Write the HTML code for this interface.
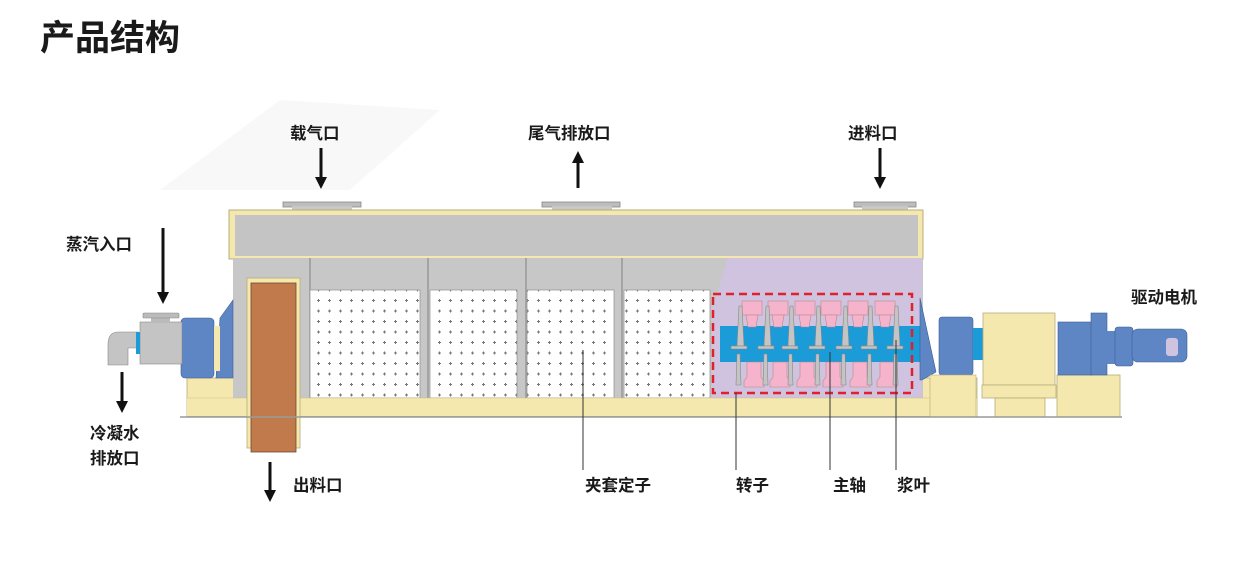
<!DOCTYPE html>
<html><head><meta charset="utf-8"><style>
html,body{margin:0;padding:0;background:#fff;}
svg{display:block;}
text{font-family:"Liberation Sans","Noto Sans CJK SC",sans-serif;fill:#1a1a1a;font-weight:bold;}
</style></head><body>
<svg width="1258" height="583" viewBox="0 0 1258 583" xmlns="http://www.w3.org/2000/svg">
<defs>
<pattern id="dots" x="314" y="296" width="11" height="10.5" patternUnits="userSpaceOnUse">
<rect width="11" height="10.5" fill="#fff"/>
<path d="M3 4.5h3M4.5 3v3" stroke="#777" stroke-width="1"/>
</pattern>
<marker id="ah" markerWidth="4" markerHeight="4" refX="2" refY="2" orient="auto"><path d="M0 0L4 2L0 4Z" fill="#111"/></marker>
</defs>
<path d="M160 190 L280 100 L440 110 L350 190Z" fill="#f8f8f8"/>

<text x="40" y="50" font-size="35">产品结构</text>

<rect x="283" y="202" width="78" height="5" fill="#bdbdbd" stroke="#888" stroke-width="0.8"/>
<rect x="292" y="206" width="60" height="5" fill="#c8c8c8"/>
<rect x="542" y="202" width="78" height="5" fill="#bdbdbd" stroke="#888" stroke-width="0.8"/>
<rect x="552" y="206" width="60" height="5" fill="#c8c8c8"/>
<rect x="854" y="202" width="62" height="5" fill="#bdbdbd" stroke="#888" stroke-width="0.8"/>
<rect x="862" y="206" width="46" height="5" fill="#c8c8c8"/>

<rect x="229" y="210" width="694" height="49" fill="#f4e8ae" stroke="#b9ad7a" stroke-width="1"/>
<rect x="235" y="215" width="683" height="41" fill="#c4c4c4"/>

<!-- base (behind body) -->
<rect x="187" y="378" width="790" height="38" fill="#f4e8ae" stroke="#b9ad7a" stroke-width="0.8"/>

<rect x="233" y="258" width="690" height="140" fill="#c7c7c7"/>
<line x1="310" y1="258" x2="310" y2="398" stroke="#999" stroke-width="1.5"/>
<line x1="428" y1="258" x2="428" y2="398" stroke="#999" stroke-width="1.5"/>
<line x1="526" y1="258" x2="526" y2="398" stroke="#999" stroke-width="1.5"/>
<line x1="622" y1="258" x2="622" y2="398" stroke="#999" stroke-width="1.5"/>
<rect x="310" y="290" width="110" height="108" fill="url(#dots)" stroke="#999" stroke-width="0.8"/>
<rect x="430" y="290" width="87" height="108" fill="url(#dots)" stroke="#999" stroke-width="0.8"/>
<rect x="527" y="290" width="87" height="108" fill="url(#dots)" stroke="#999" stroke-width="0.8"/>
<rect x="624" y="290" width="86" height="108" fill="url(#dots)" stroke="#999" stroke-width="0.8"/>
<path d="M728 258 L922 258 L922 398 L712 398 L712 310Z" fill="#cfc3e0"/>
<rect x="720" y="326" width="200" height="36" fill="#1b9bd8"/>
<g fill="#f5b3cc" stroke="#b88" stroke-width="0.6">
<rect x="742" y="301" width="20" height="14"/><path d="M746 315h12l-2 12h-8z"/>
<rect x="768" y="301" width="20" height="14"/><path d="M772 315h12l-2 12h-8z"/>
<rect x="795" y="301" width="20" height="14"/><path d="M799 315h12l-2 12h-8z"/>
<rect x="821" y="301" width="20" height="14"/><path d="M825 315h12l-2 12h-8z"/>
<rect x="848" y="301" width="20" height="14"/><path d="M852 315h12l-2 12h-8z"/>
<rect x="875" y="301" width="20" height="14"/><path d="M879 315h12l-2 12h-8z"/>
<path d="M744 387h20v-6l-3-4v-15h-14v15l-3 4z"/>
<path d="M770 387h20v-6l-3-4v-15h-14v15l-3 4z"/>
<path d="M797 387h20v-6l-3-4v-15h-14v15l-3 4z"/>
<path d="M823 387h20v-6l-3-4v-15h-14v15l-3 4z"/>
<path d="M850 387h20v-6l-3-4v-15h-14v15l-3 4z"/>
<path d="M877 387h20v-6l-3-4v-15h-14v15l-3 4z"/>
</g>
<g fill="#c4c4c4" stroke="#888" stroke-width="0.6">
<path d="M737 346l2-40h3l2 40z"/><rect x="731" y="346" width="16" height="3"/>
<path d="M764 346l2-40h3l2 40z"/><rect x="758" y="346" width="16" height="3"/>
<path d="M788 346l2-40h3l2 40z"/><rect x="782" y="346" width="16" height="3"/>
<path d="M815 346l2-40h3l2 40z"/><rect x="809" y="346" width="16" height="3"/>
<path d="M842 346l2-40h3l2 40z"/><rect x="836" y="346" width="16" height="3"/>
<path d="M867 346l2-40h3l2 40z"/><rect x="861" y="346" width="16" height="3"/>
<path d="M893 346l2-40h3l2 40z"/><rect x="887" y="346" width="16" height="3"/>
<path d="M736 385l1-31h3l1 31z"/><path d="M763 385l1-31h3l1 31z"/>
<path d="M788 385l1-31h3l1 31z"/><path d="M815 385l1-31h3l1 31z"/>
<path d="M841 385l1-31h3l1 31z"/><path d="M867 385l1-31h3l1 31z"/>
<path d="M893 385l1-31h3l1 31z"/>
</g>
<rect x="713" y="294" width="199" height="99" fill="none" stroke="#e0202a" stroke-width="2.5" stroke-dasharray="8,5"/>
<rect x="187" y="398" width="790" height="18" fill="#f4e8ae"/>
<line x1="187" y1="398" x2="977" y2="398" stroke="#c9bd88" stroke-width="0.6"/>

<path d="M220 318 L233 300 L233 378 L216 378Z" fill="#5e86c4" stroke="#3d5f95" stroke-width="0.6"/>
<rect x="181" y="318" width="33" height="60" rx="4" fill="#5e86c4" stroke="#3d5f95" stroke-width="0.6"/>
<rect x="214" y="326" width="6" height="45" fill="#f4e8ae"/>
<rect x="140" y="322" width="42" height="42" fill="#c4c4c4" stroke="#888" stroke-width="0.6"/>
<rect x="151" y="318" width="19" height="5" fill="#bbb"/>
<rect x="143" y="313" width="36" height="5" rx="1" fill="#bbb" stroke="#888" stroke-width="0.6"/>
<path d="M138 332 L118 332 Q108 332 108 345 L108 365 L128 365 L128 348 L138 348Z" fill="#c4c4c4" stroke="#888" stroke-width="0.6"/>
<rect x="136" y="332" width="4" height="22" fill="#1b9bd8"/>

<rect x="247" y="278" width="53" height="170" fill="#f4e8ae" stroke="#b9ad7a" stroke-width="0.8"/>
<rect x="251" y="283" width="45" height="169" fill="#c07a4c" stroke="#6e4a33" stroke-width="0.8"/>

<path d="M920 298 L936 372 L922 380 L920 380Z" fill="#5e86c4" stroke="#3d5f95" stroke-width="0.6"/>
<rect x="939" y="317" width="34" height="58" rx="3" fill="#5e86c4" stroke="#3d5f95" stroke-width="0.6"/>
<rect x="930" y="375" width="46" height="42" fill="#f4e8ae" stroke="#b9ad7a" stroke-width="0.6"/>
<rect x="973" y="328" width="11" height="32" fill="#1b9bd8"/>
<rect x="983" y="313" width="72" height="72" fill="#f4e8ae" stroke="#b9ad7a" stroke-width="0.8"/>
<rect x="982" y="385" width="74" height="13" fill="#f4e8ae" stroke="#b9ad7a" stroke-width="0.8"/>
<rect x="995" y="398" width="50" height="19" fill="#f4e8ae" stroke="#b9ad7a" stroke-width="0.8"/>
<rect x="1057" y="375" width="63" height="42" fill="#f4e8ae" stroke="#b9ad7a" stroke-width="0.8"/>
<rect x="1058" y="322" width="34" height="53" fill="#5e86c4" stroke="#3d5f95" stroke-width="0.6"/>
<rect x="1091" y="313" width="16" height="62" fill="#5e86c4" stroke="#3d5f95" stroke-width="0.6"/>
<rect x="1106" y="331" width="10" height="33" fill="#5e86c4"/>
<rect x="1115" y="327" width="18" height="39" rx="3" fill="#5e86c4" stroke="#3d5f95" stroke-width="0.6"/>
<rect x="1132" y="329" width="55" height="33" rx="6" fill="#5e86c4" stroke="#3d5f95" stroke-width="0.6"/>
<rect x="1166" y="338" width="12" height="18" rx="3" fill="#cfc3e0"/>
<line x1="180" y1="417" x2="1122" y2="417" stroke="#999" stroke-width="1.5"/>

<g stroke="#111" stroke-width="3" marker-end="url(#ah)">
<line x1="321" y1="148" x2="321" y2="183"/>
<line x1="578" y1="188" x2="578" y2="157"/>
<line x1="880" y1="148" x2="880" y2="183"/>
<line x1="163" y1="228" x2="163" y2="298"/>
<line x1="122" y1="372" x2="122" y2="407"/>
<line x1="270" y1="462" x2="270" y2="496"/>
</g>
<g stroke="#333" stroke-width="1">
<line x1="583" y1="350" x2="583" y2="470"/>
<line x1="736" y1="393" x2="736" y2="470"/>
<line x1="830" y1="352" x2="830" y2="470"/>
<line x1="896" y1="340" x2="896" y2="470"/>
</g>

<g font-size="16.5">
<text x="290" y="139">载气口</text>
<text x="528" y="139">尾气排放口</text>
<text x="848" y="139">进料口</text>
<text x="66" y="250">蒸汽入口</text>
<text x="90" y="439">冷凝水</text>
<text x="90" y="464">排放口</text>
<text x="293" y="491">出料口</text>
<text x="585" y="491">夹套定子</text>
<text x="736" y="491">转子</text>
<text x="833" y="491">主轴</text>
<text x="897" y="491">浆叶</text>
<text x="1131" y="303">驱动电机</text>
</g>
</svg>
</body></html>
